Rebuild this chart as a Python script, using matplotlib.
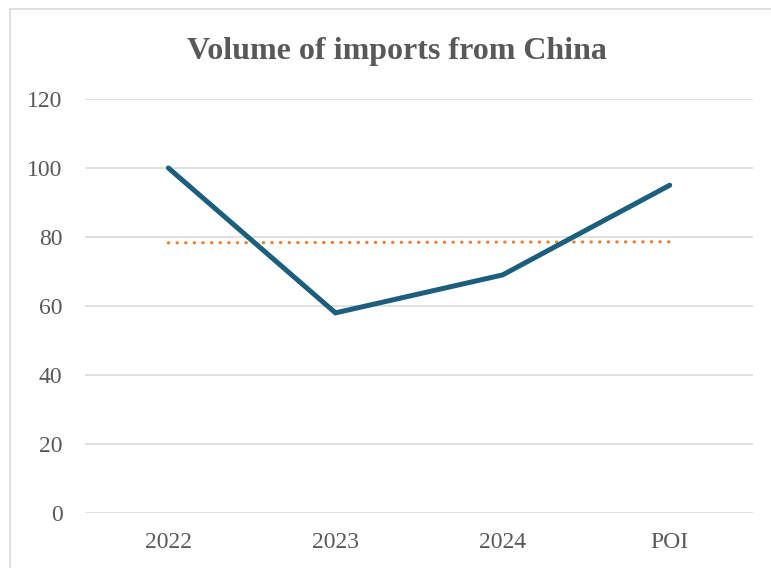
import matplotlib
matplotlib.use("Agg")
import matplotlib.pyplot as plt
from matplotlib.patches import Rectangle

categories = ["2022", "2023", "2024", "POI"]
volume = [100, 58, 69, 95]
trend = [78.3, 78.4, 78.5, 78.6]
yticks = [0, 20, 40, 60, 80, 100, 120]

TEXT = "#595959"
LINE = "#1b5e7e"
TREND = "#ed7d31"
GRID = "#d9d9d9"

plt.rcParams["font.family"] = ["Liberation Serif", "DejaVu Serif"]

fig = plt.figure(figsize=(7.71, 5.68), dpi=100)
ax = fig.add_axes([0.110, 0.0968, 0.867, 0.729])

x = list(range(len(categories)))
ax.plot(x, volume, color=LINE, linewidth=3.6, solid_capstyle="round",
        solid_joinstyle="miter", zorder=3)
ax.plot(x, trend, color=TREND, linewidth=2.3, linestyle=(0, (0.1, 2.6)),
        dash_capstyle="round", zorder=2)

ax.set_xlim(-0.5, len(categories) - 0.5)
ax.set_ylim(0, 120)
ax.set_yticks(yticks)
ax.set_xticks(x)
ax.set_xticklabels(categories)
ax.grid(axis="y", color=GRID, linewidth=1.1)
ax.set_axisbelow(True)
for s in ax.spines.values():
    s.set_visible(False)
ax.tick_params(length=0, labelsize=17, colors=TEXT)
ax.tick_params(axis="y", pad=16)
ax.tick_params(axis="x", pad=14)

fig.text(0.515, 0.909, "Volume of imports from China", ha="center", va="center",
         fontsize=23, fontweight="bold", color=TEXT)

# light frame around the chart area (right/bottom edges fall outside the image)
fig.patches.append(Rectangle((10 / 771, -0.1), 1.2, 1 - 9 / 568 + 0.1,
                             transform=fig.transFigure, fill=False,
                             edgecolor="#d9d9d9", linewidth=1.2))

fig.savefig("out.png", dpi=100)
